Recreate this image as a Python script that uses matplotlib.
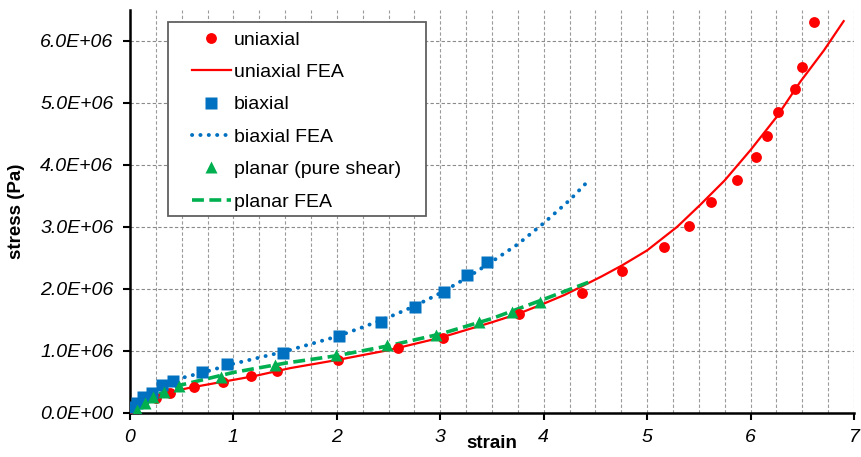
import numpy as np
import matplotlib
matplotlib.use("Agg")
import matplotlib.pyplot as plt
from matplotlib.ticker import MultipleLocator, FuncFormatter
from matplotlib.patches import Rectangle

plt.rcParams['font.family'] = ['Liberation Sans', 'DejaVu Sans']

# test data (strain, stress in units of 1E6 Pa)
uni_x = [0.0, 0.13, 0.25, 0.39, 0.62, 0.90, 1.17, 1.42, 2.01, 2.59, 3.03,
         3.76, 4.37, 4.76, 5.16, 5.40, 5.62, 5.87, 6.05, 6.16, 6.27, 6.43, 6.50, 6.61]
uni_y = [0.02, 0.17, 0.24, 0.32, 0.42, 0.50, 0.59, 0.68, 0.85, 1.04, 1.20,
         1.59, 1.94, 2.29, 2.68, 3.02, 3.40, 3.75, 4.12, 4.47, 4.85, 5.22, 5.58, 6.30]

bi_x = [0.03, 0.065, 0.13, 0.21, 0.31, 0.42, 0.70, 0.94, 1.48, 2.02, 2.43, 2.76, 3.04, 3.26, 3.45]
bi_y = [0.10, 0.15, 0.26, 0.32, 0.45, 0.51, 0.65, 0.78, 0.96, 1.24, 1.47, 1.71, 1.95, 2.23, 2.43]

pl_x = [0.065, 0.145, 0.225, 0.33, 0.47, 0.88, 1.40, 1.99, 2.48, 2.96, 3.37, 3.69, 3.96]
pl_y = [0.05, 0.16, 0.26, 0.34, 0.43, 0.58, 0.77, 0.93, 1.10, 1.26, 1.47, 1.63, 1.79]

# FEA curves
uni_fea_x = [0.0, 0.03, 0.1, 0.25, 0.4, 0.6, 0.9, 1.2, 1.55, 2.0, 2.5, 3.0, 3.5, 3.76, 4.0,
             4.2, 4.37, 4.56, 4.76, 5.0, 5.29, 5.51, 5.75, 6.0, 6.25, 6.48, 6.71, 6.90]
uni_fea_y = [0.0, 0.08, 0.18, 0.26, 0.34, 0.41, 0.50, 0.59, 0.72, 0.85, 1.01, 1.21, 1.46, 1.60, 1.76,
             1.90, 2.04, 2.20, 2.38, 2.62, 3.00, 3.35, 3.75, 4.24, 4.77, 5.34, 5.85, 6.32]

bi_fea_x = [0.0, 0.05, 0.1, 0.2, 0.3, 0.5, 0.75, 1.0, 1.25, 1.5, 1.75, 2.0, 2.25, 2.5,
            2.75, 3.0, 3.25, 3.5, 3.75, 4.0, 4.25, 4.43]
bi_fea_y = [0.0, 0.13, 0.22, 0.34, 0.43, 0.56, 0.67, 0.79, 0.89, 0.99, 1.11, 1.23, 1.38, 1.54,
            1.72, 1.93, 2.17, 2.44, 2.72, 3.06, 3.43, 3.74]

pl_fea_x = [0.0, 0.05, 0.1, 0.25, 0.5, 1.0, 1.5, 2.0, 2.5, 3.0, 3.5, 4.0, 4.44]
pl_fea_y = [0.0, 0.09, 0.15, 0.28, 0.45, 0.65, 0.80, 0.92, 1.08, 1.27, 1.52, 1.83, 2.11]

red = '#FF0000'
blue = '#0070C0'
green = '#00B050'


def main():
    fig = plt.figure(figsize=(8.61, 4.57), dpi=100)
    ax = fig.add_axes([130/861, 1 - 412.7/457, 724/861, 402.7/457])

    s = 1e6
    ax.plot(uni_x, np.array(uni_y)*s, 'o', color=red, ms=7.8, mec='none', label='uniaxial', zorder=5)
    ax.plot(uni_fea_x, np.array(uni_fea_y)*s, '-', color=red, lw=1.6, label='uniaxial FEA', zorder=4)
    ax.plot(bi_x, np.array(bi_y)*s, 's', color=blue, ms=8, mec='none', label='biaxial', zorder=5)
    ax.plot(bi_fea_x, np.array(bi_fea_y)*s, color=blue, lw=2.8, dashes=(0.05, 2.1),
            dash_capstyle='round', label='biaxial FEA', zorder=4)
    ax.plot(pl_x, np.array(pl_y)*s, '^', color=green, ms=8.5, mec='none', label='planar (pure shear)', zorder=5)
    ax.plot(pl_fea_x, np.array(pl_fea_y)*s, color=green, lw=2.6, dashes=(3.3, 1.5),
            label='planar FEA', zorder=4)

    ax.set_xlim(0, 7)
    ax.set_ylim(0, 6.5e6)
    ax.xaxis.set_major_locator(MultipleLocator(1))
    ax.xaxis.set_minor_locator(MultipleLocator(0.25))
    ax.yaxis.set_major_locator(MultipleLocator(1e6))
    ax.yaxis.set_major_formatter(FuncFormatter(lambda v, p: f"{v:.1E}"))
    ax.xaxis.set_major_formatter(FuncFormatter(lambda v, p: f"{v:g}"))

    ax.grid(True, which='both', axis='x', color='#9a9a9a', lw=0.8, ls=(0, (3, 2)))
    ax.grid(True, which='major', axis='y', color='#8a8a8a', lw=0.8, ls=(0, (3, 2)))
    ax.set_axisbelow(True)

    for sp in ['top', 'right']:
        ax.spines[sp].set_visible(False)
    for sp in ['left', 'bottom']:
        ax.spines[sp].set_linewidth(1.8)

    ax.tick_params(which='major', direction='out', length=5, width=1.5, pad=7, labelsize=14)
    ax.tick_params(which='minor', length=0)
    for t in ax.get_xticklabels() + ax.get_yticklabels():
        t.set_fontstyle('italic')

    ax.set_xlabel('strain', fontsize=13.5, fontweight='bold')
    ax.xaxis.set_label_coords(0.5, -0.055)
    ax.set_ylabel('stress (Pa)', fontsize=13.5, fontweight='bold')
    ax.yaxis.set_label_coords(-0.145, 0.5)

    # legend box
    ax.add_patch(Rectangle((38/724, (412.7-216)/402.7), (426-168)/724, (216-22)/402.7,
                           transform=ax.transAxes, facecolor='white', edgecolor='#606060',
                           lw=1.3, zorder=6, clip_on=False))
    leg = ax.legend(loc='upper left', bbox_to_anchor=(62/724, (412.7-31)/402.7), frameon=False,
                    borderpad=0, borderaxespad=0, handlelength=2.0, handletextpad=0.15,
                    labelspacing=0.76, fontsize=14)
    leg.set_zorder(7)

    fig.savefig("out.png", dpi=100)


if __name__ == "__main__":
    main()
